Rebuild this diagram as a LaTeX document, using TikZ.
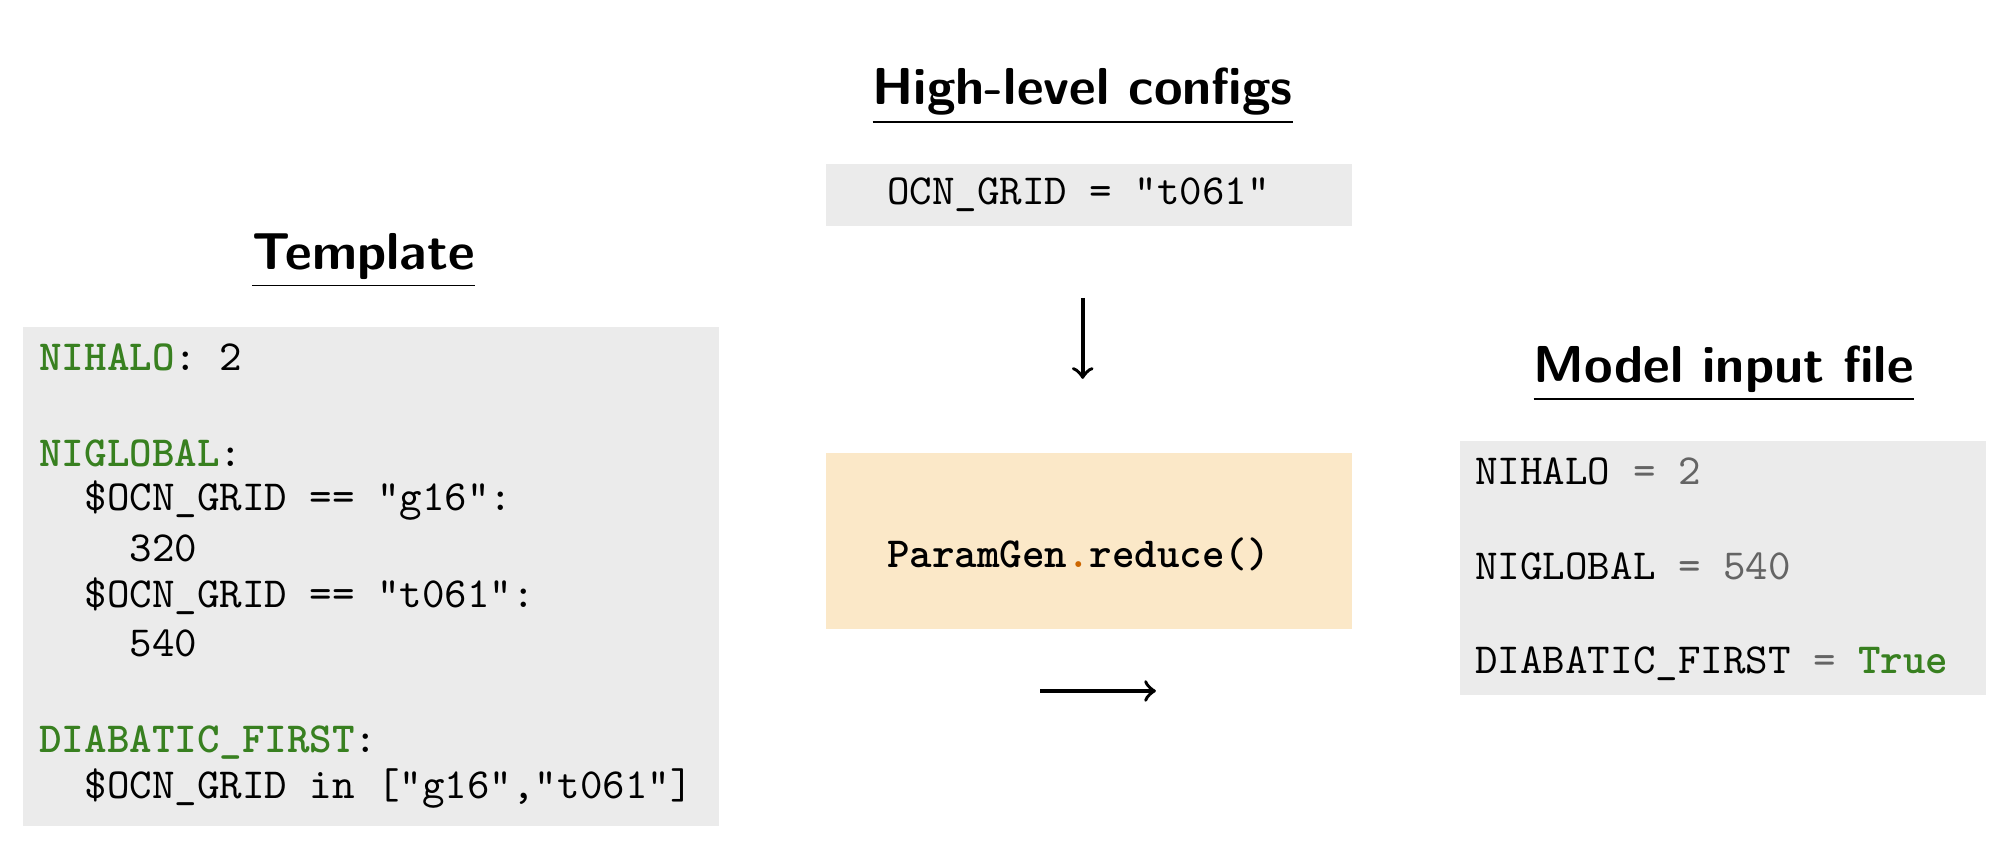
\documentclass[tikz,border=0pt]{standalone}
\usetikzlibrary{positioning}
\definecolor{boxgray}{RGB}{235,235,235}
\definecolor{boxorange}{RGB}{251,232,200}
\definecolor{keygreen}{RGB}{56,128,32}
\definecolor{valgray}{RGB}{100,100,100}
\newcommand{\kw}[1]{\textcolor{keygreen}{\textbf{#1}}}
\newcommand{\vl}[1]{\textcolor{valgray}{#1}}
\begin{document}
\begin{tikzpicture}[x=0.01cm,y=-0.01cm,
    title/.style={font=\sffamily\bfseries\fontsize{11.5}{13}\selectfont},
    code/.style={font=\ttfamily\fontsize{9.5}{11}\selectfont,anchor=west,inner sep=0pt},
    flow/.style={->,line width=0.8pt}]
  \useasboundingbox (0,0) rectangle (1551,662);

  % template
  \node[title] (ttitle) at (283,203) {\underline{Template}};
  \fill[boxgray] (18,255) rectangle (560,643);
  \node[code] (t1) at (30,278) {\kw{NIHALO}: 2};
  \node[code] (t2) at (30,353) {\kw{NIGLOBAL}:};
  \node[code] (t3) at (30,390) {\ \ \$OCN\_GRID == "g16":};
  \node[code] (t4) at (30,427) {\ \ \ \ 320};
  \node[code] (t5) at (30,464) {\ \ \$OCN\_GRID == "t061":};
  \node[code] (t6) at (30,501) {\ \ \ \ 540};
  \node[code] (t7) at (30,578) {\kw{DIABATIC\_FIRST}:};
  \node[code] (t8) at (30,614) {\ \ \$OCN\_GRID in ["g16","t061"]};

  % high-level configs
  \node[title] (htitle) at (843,75) {\underline{High-level configs}};
  \fill[boxgray] (643,128) rectangle (1053,176);
  \node[code] (h1) at (690,152) {OCN\_GRID = "t061"};
  \coordinate (dtop) at (843,232);
  \coordinate (dbot) at (843,295);
  \draw[flow] (dtop) -- (dbot);

  % paramgen
  \fill[boxorange] (643,353) rectangle (1053,490);
  \node[code] (pg) at (690,432) {\textbf{ParamGen\textcolor{orange!80!black}{.}reduce()}};
  \coordinate (rleft) at (810,538);
  \coordinate (rright) at (900,538);
  \draw[flow] (rleft) -- (rright);

  % model input file
  \node[title] (mtitle) at (1342,291) {\underline{Model input file}};
  \fill[boxgray] (1137,343) rectangle (1546,541);
  \node[code] (m1) at (1148,367) {NIHALO \vl{= 2}};
  \node[code] (m2) at (1148,441) {NIGLOBAL \vl{= 540}};
  \node[code] (m3) at (1148,517) {DIABATIC\_FIRST \vl{=} \kw{True}};
\end{tikzpicture}
\end{document}
